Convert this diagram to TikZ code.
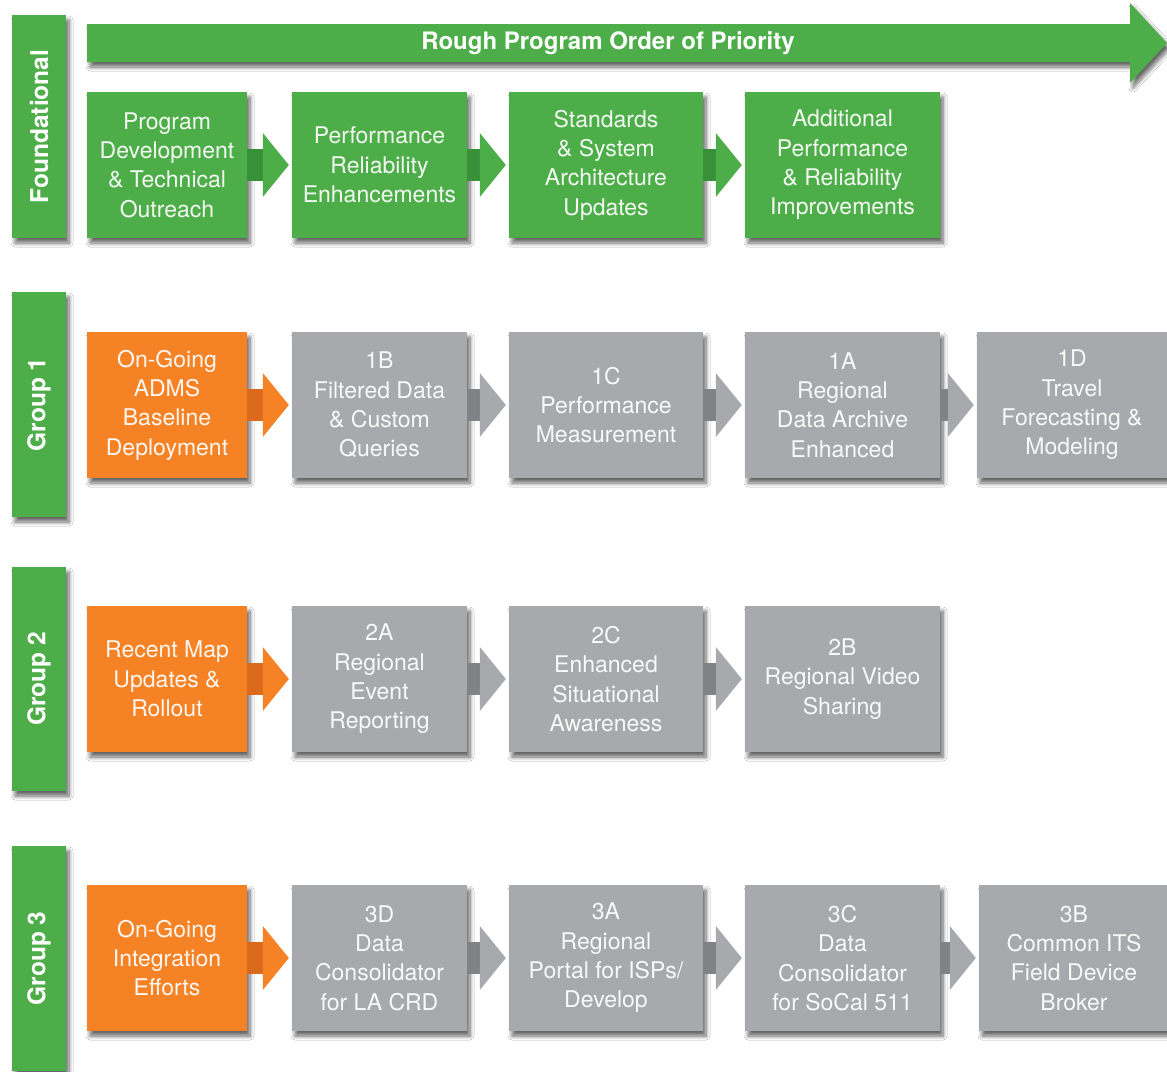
\documentclass[tikz,border=0pt]{standalone}
\usepackage{fontspec}
\setmainfont{TeX Gyre Heros}
\usetikzlibrary{calc,shadows.blur}

\definecolor{leafgreen}{RGB}{77,174,73}
\definecolor{leafstem}{RGB}{56,145,56}
\definecolor{tangerine}{RGB}{245,130,36}
\definecolor{tangstem}{RGB}{220,106,28}
\definecolor{slate}{RGB}{167,169,172}
\definecolor{slatestem}{RGB}{128,130,134}

\tikzset{
  softshade/.style={blur shadow={shadow xshift=3pt, shadow yshift=-5pt,
      shadow blur radius=4pt, shadow opacity=60, shadow blur steps=8}},
  tile/.style={rectangle, inner sep=0pt, align=center, softshade,
      fill=#1, text=white!93!#1, font=\fontsize{23}{29.3}\selectfont},
  c1/.style={minimum width=160pt, minimum height=146pt},
  c2/.style={minimum width=175pt, minimum height=146pt},
  c3/.style={minimum width=194pt, minimum height=146pt},
  c4/.style={minimum width=195pt, minimum height=146pt},
  c5/.style={minimum width=190pt, minimum height=146pt},
  sidebar/.style={rectangle, inner sep=0pt, fill=leafgreen, softshade,
      minimum width=54pt, minimum height=#1},
  sidelabel/.style={rotate=90, text=white, inner sep=0pt,
      font=\bfseries\fontsize{24.5}{29}\selectfont},
}

% connector: stem from the right side of #1, chevron head ending at #2
\newcommand\flowlink[4]{%
  \fill[#3] ($(#1.east)+(0,-16)$) rectangle ($(#2.west)+(-29,16)$);
  \fill[#4] ($(#2.west)+(-29,-32)$) -- ($(#2.west)+(-3,0)$)
            -- ($(#2.west)+(-29,32)$) -- cycle;
}

\begin{document}
\begin{tikzpicture}[x=1pt, y=-1pt]
\useasboundingbox[fill=white] (0,0) rectangle (1167,1071);

% priority arrow across the top
\fill[leafgreen, softshade] (87,24) -- (1130,24) -- (1130,3) -- (1167,43)
  -- (1130,83) -- (1130,62) -- (87,62) -- cycle;
\node[text=white, font=\bfseries\fontsize{24}{28}\selectfont] (title)
  at (608,43) {Rough Program Order of Priority};

% group bars on the left
\node[sidebar=223pt] (barF) at (39,126.5) {};
\node[sidelabel] (labF) at (barF.center) {Foundational};
\node[sidebar=225pt] (bar1) at (39,404.5) {};
\node[sidelabel] (lab1) at (bar1.center) {Group 1};
\node[sidebar=224pt] (bar2) at (39,679) {};
\node[sidelabel] (lab2) at (bar2.center) {Group 2};
\node[sidebar=225pt] (bar3) at (39,958.5) {};
\node[sidelabel] (lab3) at (bar3.center) {Group 3};

% foundational row
\node[tile=leafgreen, c1] (fA) at (167,165) {Program\\Development\\\& Technical\\Outreach};
\node[tile=leafgreen, c2] (fB) at (379.5,165) {Performance\\Reliability\\Enhancements};
\node[tile=leafgreen, c3] (fC) at (606,165) {Standards\\\& System\\Architecture\\Updates};
\node[tile=leafgreen, c4] (fD) at (842.5,165) {Additional\\Performance\\\& Reliability\\Improvements};
\flowlink{fA}{fB}{leafstem}{leafgreen}
\flowlink{fB}{fC}{leafstem}{leafgreen}
\flowlink{fC}{fD}{leafstem}{leafgreen}

% group 1
\node[tile=tangerine, c1] (aO) at (167,405) {On-Going\\ADMS\\Baseline\\Deployment};
\node[tile=slate, c2] (a1B) at (379.5,405) {1B\\Filtered Data\\\& Custom\\Queries};
\node[tile=slate, c3] (a1C) at (606,405) {1C\\Performance\\Measurement};
\node[tile=slate, c4] (a1A) at (842.5,405) {1A\\Regional\\Data Archive\\Enhanced};
\node[tile=slate, c5] (a1D) at (1072,405) {1D\\Travel\\Forecasting \&\\Modeling};
\flowlink{aO}{a1B}{tangstem}{tangerine}
\flowlink{a1B}{a1C}{slatestem}{slate}
\flowlink{a1C}{a1A}{slatestem}{slate}
\flowlink{a1A}{a1D}{slatestem}{slate}

% group 2
\node[tile=tangerine, c1] (bO) at (167,679) {Recent Map\\Updates \&\\Rollout};
\node[tile=slate, c2] (b2A) at (379.5,679) {2A\\Regional\\Event\\Reporting};
\node[tile=slate, c3] (b2C) at (606,679) {2C\\Enhanced\\Situational\\Awareness};
\node[tile=slate, c4] (b2B) at (842.5,679) {2B\\Regional Video\\Sharing};
\flowlink{bO}{b2A}{tangstem}{tangerine}
\flowlink{b2A}{b2C}{slatestem}{slate}
\flowlink{b2C}{b2B}{slatestem}{slate}

% group 3
\node[tile=tangerine, c1] (cO) at (167,958) {On-Going\\Integration\\Efforts};
\node[tile=slate, c2] (c3D) at (379.5,958) {3D\\Data\\Consolidator\\for LA CRD};
\node[tile=slate, c3] (c3A) at (606,958) {3A\\Regional\\Portal for ISPs/\\Develop};
\node[tile=slate, c4] (c3C) at (842.5,958) {3C\\Data\\Consolidator\\for SoCal 511};
\node[tile=slate, c5] (c3B) at (1074,958) {3B\\Common ITS\\Field Device\\Broker};
\flowlink{cO}{c3D}{tangstem}{tangerine}
\flowlink{c3D}{c3A}{slatestem}{slate}
\flowlink{c3A}{c3C}{slatestem}{slate}
\flowlink{c3C}{c3B}{slatestem}{slate}
\end{tikzpicture}
\end{document}
